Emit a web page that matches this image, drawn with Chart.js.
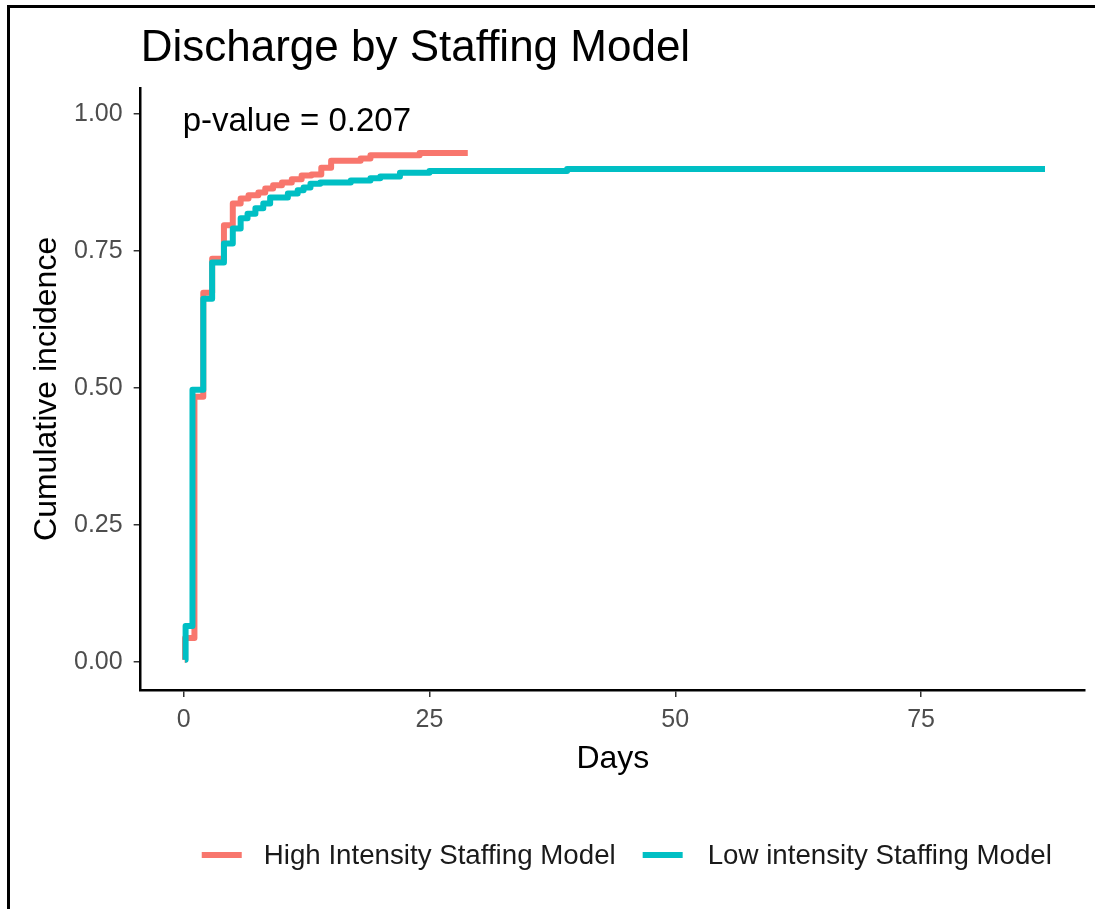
<!DOCTYPE html>
<html>
<head>
<meta charset="utf-8">
<script src="https://cdn.jsdelivr.net/npm/chart.js@4.4.1/dist/chart.umd.min.js"></script>
<style>
  html, body { margin: 0; padding: 0; background: #fff; }
  #wrap { position: relative; width: 1095px; height: 909px; overflow: hidden; }
  #frame { position: absolute; left: 7px; top: 5px; width: 1100px; height: 920px;
           border-top: 3px solid #000; border-left: 3px solid #000; }
  canvas { position: absolute; left: 0; top: 0; }
</style>
</head>
<body>
<div id="wrap">
  <div id="frame"></div>
  <canvas id="c" width="1095" height="909"></canvas>
</div>
<script>
const titleText = "Discharge by Staffing Model";
const annotationText = "p-value = 0.207";
const xTitle = "Days";
const yTitle = "Cumulative incidence";
const seriesNames = ["High Intensity Staffing Model", "Low intensity Staffing Model"];
const seriesColors = ["#F8766D", "#00BFC4"];
const xTicks = [0, 25, 50, 75];
const yTicks = [0, 0.25, 0.5, 0.75, 1.0];

// High intensity: days and cumulative incidence (step points)
const highDays = [0.1, 0.15, 1.1, 2.0, 2.9, 4.1, 5.0, 5.8, 6.6, 7.6, 8.3, 9.1, 10.0, 11.0, 12.0, 13.0, 14.0, 15.0, 18.0, 19.0, 24.0, 28.9];
const highInc  = [0.004, 0.044, 0.484, 0.674, 0.736, 0.797, 0.837, 0.846, 0.852, 0.857, 0.864, 0.870, 0.875, 0.881, 0.888, 0.890, 0.902, 0.915, 0.919, 0.925, 0.929, 0.929];

// Low intensity
const lowDays = [0.15, 0.2, 0.9, 2.0, 2.9, 4.1, 5.0, 5.8, 6.5, 7.3, 8.1, 8.8, 10.6, 11.6, 12.2, 12.9, 13.9, 17.0, 19.0, 20.0, 22.0, 25.0, 39.0, 87.6];
const lowInc  = [0.004, 0.066, 0.497, 0.663, 0.729, 0.764, 0.791, 0.810, 0.818, 0.828, 0.837, 0.848, 0.855, 0.861, 0.866, 0.873, 0.875, 0.879, 0.883, 0.886, 0.893, 0.896, 0.900, 0.900];

const FONT = "'Liberation Sans', Arial, sans-serif";

function toPoints(xs, ys) { return xs.map((x, i) => ({ x: x, y: ys[i] })); }

const extras = {
  id: 'extras',
  afterDatasetsDraw(chart) {
    const ctx = chart.ctx;
    const xs = chart.scales.x, ys = chart.scales.y;
    ctx.save();
    // annotation
    ctx.font = "33px " + FONT;
    ctx.fillStyle = "#000";
    ctx.textAlign = "left";
    ctx.textBaseline = "middle";
    ctx.fillText(annotationText, xs.getPixelForValue(0) - 1, ys.getPixelForValue(0.985));
    // legend
    ctx.font = "27.7px " + FONT;
    const w1 = ctx.measureText(seriesNames[0]).width;
    const w2 = ctx.measureText(seriesNames[1]).width;
    const total = 40 + 22 + w1 + 27 + 40 + 25 + w2;
    const cx = (chart.chartArea.left + chart.chartArea.right) / 2 + 14;
    let x = cx - total / 2;
    const y = 855;
    ctx.lineWidth = 6;
    ctx.lineCap = "butt";
    ctx.strokeStyle = seriesColors[0];
    ctx.beginPath(); ctx.moveTo(x, y); ctx.lineTo(x + 40, y); ctx.stroke();
    x += 62;
    ctx.fillStyle = "#1a1a1a";
    ctx.fillText(seriesNames[0], x, y + 1);
    x += w1 + 27;
    ctx.strokeStyle = seriesColors[1];
    ctx.beginPath(); ctx.moveTo(x, y); ctx.lineTo(x + 40, y); ctx.stroke();
    x += 65;
    ctx.fillText(seriesNames[1], x, y + 1);
    ctx.restore();
  }
};

new Chart(document.getElementById('c'), {
  type: 'line',
  data: {
    datasets: [
      { label: seriesNames[0], data: toPoints(highDays, highInc), borderColor: seriesColors[0], backgroundColor: seriesColors[0], order: 1 },
      { label: seriesNames[1], data: toPoints(lowDays, lowInc), borderColor: seriesColors[1], backgroundColor: seriesColors[1], order: 0 }
    ]
  },
  options: {
    responsive: false,
    animation: false,
    events: [],
    layout: { padding: { left: 26, right: 10, top: 0, bottom: 134 } },
    elements: {
      line: { borderWidth: 6, stepped: 'before', tension: 0, borderCapStyle: 'butt', borderJoinStyle: 'round', fill: false },
      point: { radius: 0 }
    },
    plugins: {
      legend: { display: false },
      tooltip: { enabled: false },
      title: {
        display: true, text: titleText, align: 'start', fullSize: false,
        color: '#000', font: { family: FONT, size: 44, weight: 'normal' },
        padding: { top: 22, bottom: 13 }
      }
    },
    scales: {
      x: {
        type: 'linear', min: -4.37, max: 91.67,
        afterBuildTicks: s => { s.ticks = xTicks.map(v => ({ value: v })); },
        ticks: { color: '#4D4D4D', font: { family: FONT, size: 25 }, padding: 8, callback: v => String(v) },
        grid: { drawOnChartArea: false, drawTicks: true, tickLength: 7, color: '#333', lineWidth: 1.5 },
        border: { display: true, color: '#000', width: 2.5 },
        title: { display: true, text: xTitle, color: '#000', font: { family: FONT, size: 32, lineHeight: 1.0 }, padding: { top: 0, bottom: 0 } }
      },
      y: {
        type: 'linear', min: -0.051, max: 1.048,
        afterBuildTicks: s => { s.ticks = yTicks.map(v => ({ value: v })); },
        ticks: { color: '#4D4D4D', font: { family: FONT, size: 25 }, padding: 11, callback: v => Number(v).toFixed(2) },
        grid: { drawOnChartArea: false, drawTicks: true, tickLength: 7, color: '#333', lineWidth: 1.5 },
        border: { display: true, color: '#000', width: 2.5 },
        title: { display: true, text: yTitle, color: '#000', font: { family: FONT, size: 32, lineHeight: 1.0 }, padding: { top: 5, bottom: 0 } }
      }
    }
  },
  plugins: [extras]
});
</script>
</body>
</html>
